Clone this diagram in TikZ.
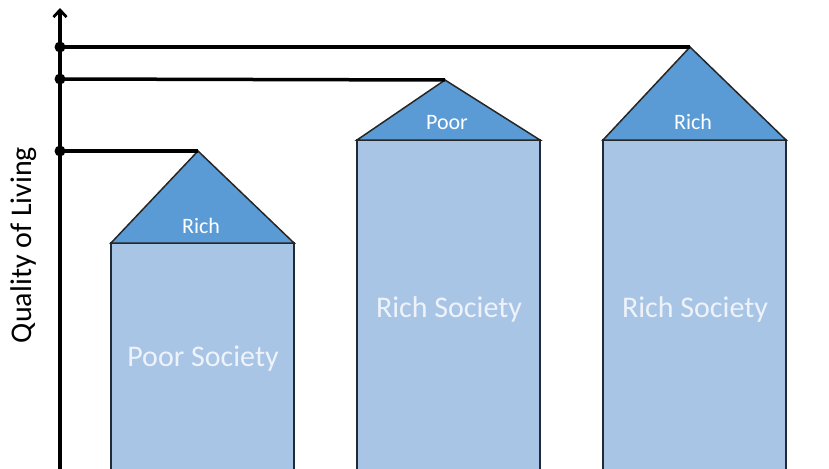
\documentclass[tikz,border=0pt]{standalone}
\usepackage{fontspec}
\setmainfont{Carlito}
\usetikzlibrary{arrows.meta}
\definecolor{roofblue}{HTML}{5B9BD5}
\definecolor{wallblue}{HTML}{A9C5E6}
\definecolor{wallborder}{HTML}{1F2A3A}
\definecolor{walltext}{HTML}{EEF3FA}
\tikzset{
  roof/.style={fill=roofblue,draw=black!85,line width=1.5pt,line join=miter},
  wall/.style={fill=wallblue,draw=wallborder,line width=1.5pt},
  rooftext/.style={text=white,font=\fontsize{22}{22}\selectfont,inner sep=0pt},
  walltext/.style={text=walltext,font=\fontsize{30}{30}\selectfont,inner sep=0pt},
  level/.style={line width=3.5pt},
  leveldot/.style={circle,fill=black,inner sep=0pt,minimum size=11pt},
}
\begin{document}
\begin{tikzpicture}[x=1pt,y=-1pt]
\useasboundingbox (0,0) rectangle (829,468);
\clip (0,0) rectangle (829,468);
% buildings
\draw[wall] (111,243) -- (111,480) -- (294,480) -- (294,243) -- cycle;
\draw[roof] (111,243) -- (198,151) coordinate (apexA) -- (294,243) -- cycle;
\draw[wall] (357,140) -- (357,480) -- (540,480) -- (540,140) -- cycle;
\draw[roof] (357,140) -- (445,80) coordinate (apexB) -- (540,140) -- cycle;
\draw[wall] (603,140) -- (603,480) -- (786,480) -- (786,140) -- cycle;
\draw[roof] (603,140) -- (690,47) coordinate (apexC) -- (786,140) -- cycle;
% texts
\node[rooftext] (r1) at (201,226) {Rich};
\node[rooftext] (r2) at (447,123) {Poor};
\node[rooftext] (r3) at (693,122) {Rich};
\node[walltext] (s1) at (203,359) {Poor Society};
\node[walltext] (s2) at (449,309) {Rich Society};
\node[walltext] (s3) at (695,309) {Rich Society};
% axis
\coordinate (axb) at (60,470);
\coordinate (axt) at (60,8);
\draw[line width=3.8pt,-{Straight Barb[length=7pt,width=13pt,line width=2.8pt]}] (axb) -- (axt);
\node[leveldot] (d1) at (60,151) {};
\node[leveldot] (d2) at (60,79) {};
\node[leveldot] (d3) at (60,47) {};
\draw[level] (d1.center) -- (apexA);
\draw[level] (d2.center) -- (apexB);
\draw[level] (d3.center) -- (apexC);
\node[rotate=90,font=\fontsize{30}{30}\selectfont,inner sep=0pt] (ylab) at (24,245) {Quality of Living};
\end{tikzpicture}
\end{document}
